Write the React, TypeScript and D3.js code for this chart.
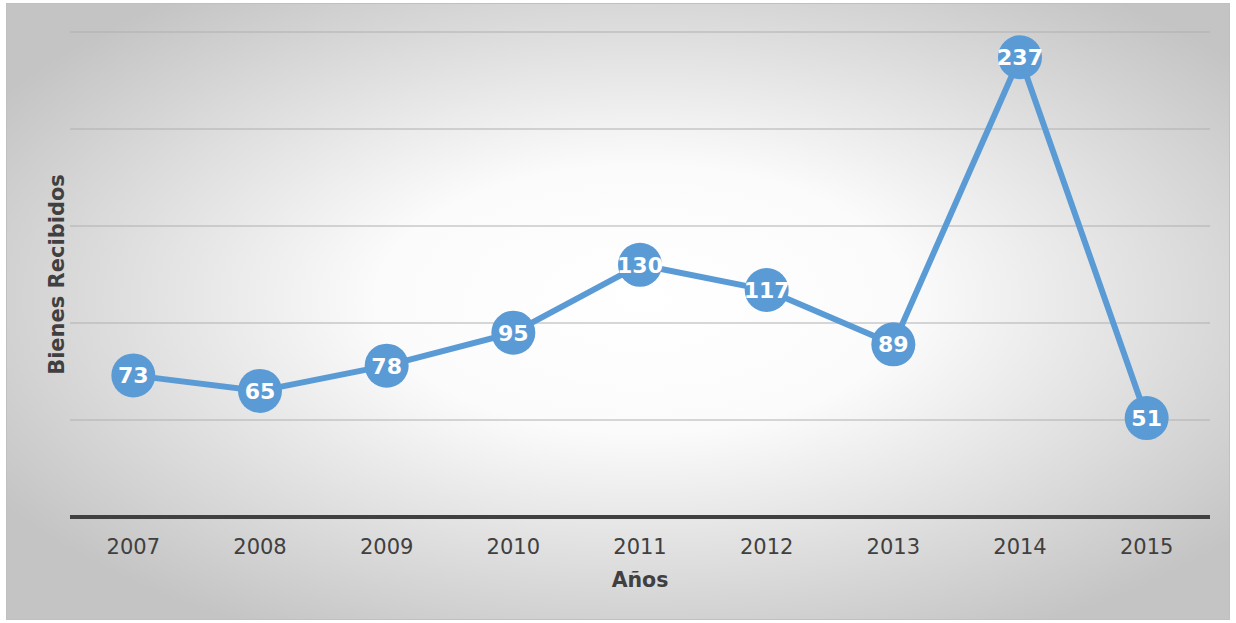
import { useEffect, useRef } from "react";
import * as d3 from "d3";

const years = ["2007", "2008", "2009", "2010", "2011", "2012", "2013", "2014", "2015"];
const bienes = [73, 65, 78, 95, 130, 117, 89, 237, 51];
const yTicks = [0, 50, 100, 150, 200, 250];

function App() {
  const svgRef = useRef<SVGSVGElement>(null);

  useEffect(() => {
    const width = 1236;
    const height = 623;
    const margin = { top: 32, right: 26, bottom: 106, left: 70 };
    const font = "'DejaVu Sans', Verdana, sans-serif";

    const svg = d3.select(svgRef.current).attr("width", width).attr("height", height);
    svg.selectAll("*").remove();

    const defs = svg.append("defs");
    const grad = defs
      .append("radialGradient")
      .attr("id", "bg")
      .attr("cx", "52%")
      .attr("cy", "48%")
      .attr("r", "62%")
      .attr("gradientUnits", "objectBoundingBox");
    grad.append("stop").attr("offset", "0%").attr("stop-color", "#ffffff");
    grad.append("stop").attr("offset", "35%").attr("stop-color", "#fbfbfb");
    grad.append("stop").attr("offset", "100%").attr("stop-color", "#c4c4c4");

    svg
      .append("rect")
      .attr("x", 6.5)
      .attr("y", 3.5)
      .attr("width", 1223)
      .attr("height", 616)
      .attr("fill", "url(#bg)")
      .attr("stroke", "#c0c0c0")
      .attr("stroke-width", 1);

    const x = d3
      .scaleBand()
      .domain(years)
      .range([margin.left, width - margin.right]);

    const y = d3
      .scaleLinear()
      .domain([0, 250])
      .range([height - margin.bottom, margin.top]);

    // horizontal gridlines
    svg
      .append("g")
      .selectAll("line")
      .data(yTicks.slice(1))
      .enter()
      .append("line")
      .attr("x1", margin.left)
      .attr("x2", width - margin.right)
      .attr("y1", (d) => y(d))
      .attr("y2", (d) => y(d))
      .attr("stroke", "#b0b0b0")
      .attr("stroke-width", 1.2);

    svg
      .append("line")
      .attr("x1", margin.left)
      .attr("x2", width - margin.right)
      .attr("y1", y(0))
      .attr("y2", y(0))
      .attr("stroke", "#404040")
      .attr("stroke-width", 4);

    svg
      .append("g")
      .selectAll("text")
      .data(years)
      .enter()
      .append("text")
      .attr("x", (d) => x(d)! + x.bandwidth() / 2)
      .attr("y", y(0) + 37)
      .attr("text-anchor", "middle")
      .attr("font-family", font)
      .attr("font-size", 21)
      .attr("fill", "#404040")
      .text((d) => d);

    svg
      .append("text")
      .attr("x", (margin.left + width - margin.right) / 2)
      .attr("y", 587)
      .attr("text-anchor", "middle")
      .attr("font-family", font)
      .attr("font-size", 20.5)
      .attr("font-weight", "bold")
      .attr("fill", "#404040")
      .text("Años");

    svg
      .append("text")
      .attr("transform", `translate(64,${(margin.top + height - margin.bottom) / 2}) rotate(-90)`)
      .attr("text-anchor", "middle")
      .attr("font-family", font)
      .attr("font-size", 21)
      .attr("font-weight", "bold")
      .attr("fill", "#404040")
      .text("Bienes Recibidos");

    const pts = years.map((yr, i) => ({ yr, v: bienes[i] }));
    const line = d3
      .line<{ yr: string; v: number }>()
      .x((d) => x(d.yr)! + x.bandwidth() / 2)
      .y((d) => y(d.v));

    svg
      .append("path")
      .datum(pts)
      .attr("d", line)
      .attr("fill", "none")
      .attr("stroke", "#5b9bd5")
      .attr("stroke-width", 6)
      .attr("stroke-linejoin", "round");

    const g = svg
      .append("g")
      .selectAll("g")
      .data(pts)
      .enter()
      .append("g")
      .attr("transform", (d) => `translate(${x(d.yr)! + x.bandwidth() / 2},${y(d.v)})`);

    g.append("circle").attr("r", 22).attr("fill", "#5b9bd5");

    g.append("text")
      .attr("text-anchor", "middle")
      .attr("dy", "0.36em")
      .attr("font-family", font)
      .attr("font-size", 22)
      .attr("font-weight", "bold")
      .attr("fill", "#ffffff")
      .text((d) => d.v);
  }, []);

  return (
    <div style={{ position: "absolute", left: 0, top: 0 }}>
      <svg ref={svgRef} style={{ display: "block" }}></svg>
    </div>
  );
}

export default App;
